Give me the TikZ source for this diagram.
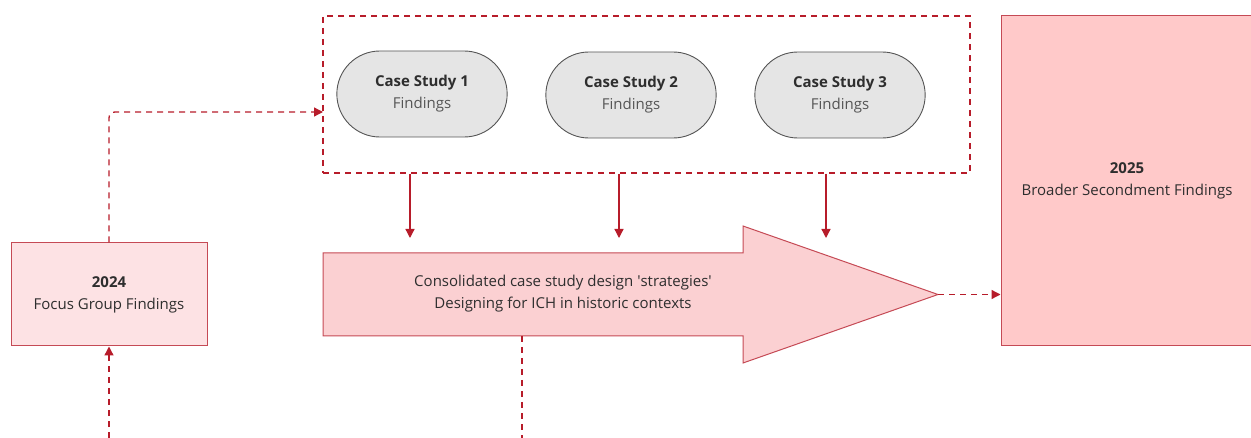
\documentclass[tikz,border=0pt]{standalone}
\usepackage{fontspec}
\setmainfont{Open Sans}
\usetikzlibrary{shapes.misc,arrows.meta}
\definecolor{linered}{HTML}{B71C2A}
\definecolor{boxred}{HTML}{C54A55}
\definecolor{focusfill}{HTML}{FDE2E4}
\definecolor{arrowfill}{HTML}{FBD0D2}
\definecolor{broadfill}{HTML}{FFC9C9}
\definecolor{pillfill}{HTML}{E5E5E5}
\definecolor{pillgray}{HTML}{555555}
\definecolor{textgray}{HTML}{2E2E2E}
\definecolor{softgray}{HTML}{555555}

\begin{document}
\begin{tikzpicture}[x=1pt,y=-1pt,
  findbox/.style={draw=boxred,line width=1pt,fill=#1,align=center,text=textgray,
    font=\fontsize{15}{22}\selectfont},
  casepill/.style={rounded rectangle,draw=pillgray,line width=0.9pt,fill=pillfill,
    minimum width=177pt,minimum height=86pt,align=center,text=textgray,
    font=\fontsize{15}{22}\selectfont},
  flow/.style={linered,line width=1.3pt,dash pattern=on 6pt off 5pt,
    -{Triangle[length=9pt,width=9pt]}},
  feed/.style={linered,line width=1.3pt,-{Triangle[length=9pt,width=9pt]}}]
\useasboundingbox (0,0) rectangle (1251,438);

\node[findbox=focusfill,minimum width=196pt,minimum height=103pt] (focus) at (109,294.5)
  {\textbf{2024}\\Focus Group Findings};
\node[findbox=broadfill,minimum width=252pt,minimum height=330pt] (broad) at (1127,181)
  {\textbf{2025}\\Broader Secondment Findings};

\node[draw=linered,line width=1.2pt,dash pattern=on 6pt off 5pt,
  minimum width=647pt,minimum height=157pt] (cases) at (646.5,94.5) {};
\node[casepill] (cs1) at (422,94) {\textbf{Case Study 1}\\\textcolor{softgray}{Findings}};
\node[casepill] (cs2) at (631,95) {\textbf{Case Study 2}\\\textcolor{softgray}{Findings}};
\node[casepill] (cs3) at (840,95) {\textbf{Case Study 3}\\\textcolor{softgray}{Findings}};

\draw[draw=boxred,line width=1pt,fill=arrowfill]
  (323,253) -- (743,253) -- (743,226) -- (938,294.5) -- (743,363) -- (743,336) -- (323,336) -- cycle;
\coordinate (tip) at (938,294.5);
\coordinate (in1) at (410,253);
\coordinate (in2) at (619,253);
\coordinate (in3) at (826,253);
\coordinate (shaftbot) at (522,336);
\coordinate (down) at (522,438);
\node[align=center,text=textgray,font=\fontsize{15}{22}\selectfont] (strat) at (563,294)
  {Consolidated case study design \textquotesingle strategies\textquotesingle\\Designing for ICH in historic contexts};

\coordinate (cin) at (323,112);
\coordinate (fgin) at (109,438);

\draw[flow,rounded corners=6pt] (focus.north) |- (cin);
\draw[flow] (fgin) -- (focus.south);
\foreach \i in {in1,in2,in3}
  \draw[feed] (cases.south -| \i) -- ([yshift=15pt]\i);
\draw[flow,-] (shaftbot) -- (down);
\draw[flow] (tip) -- (broad.west |- tip);
\end{tikzpicture}
\end{document}
